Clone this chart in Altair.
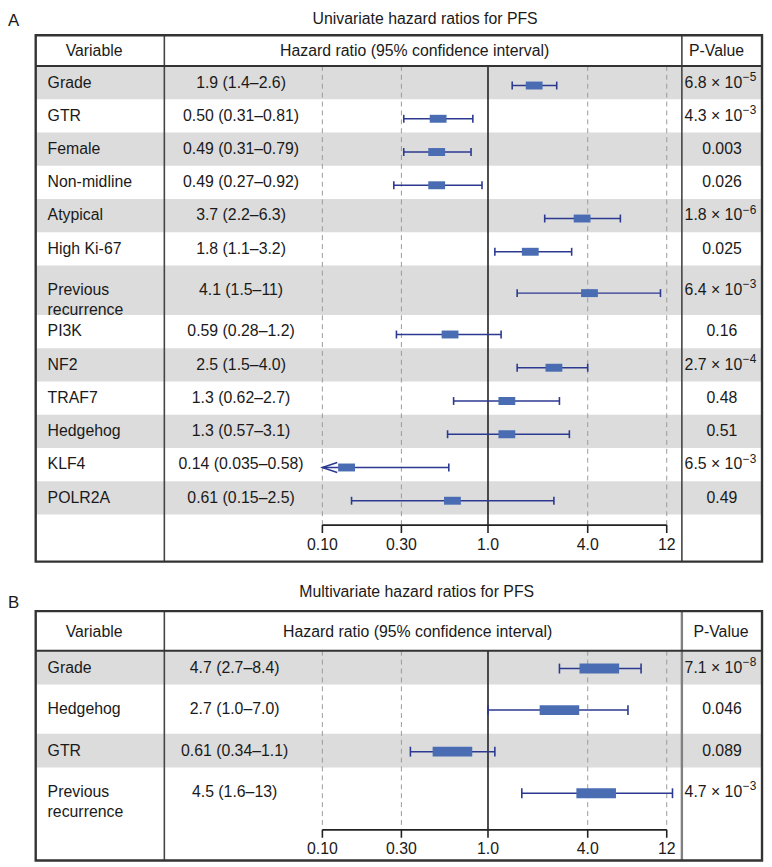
import math
import altair as alt
import pandas as pd

# ---------------- data ----------------
a_vars = ["Grade", "GTR", "Female", "Non-midline", "Atypical", "High Ki-67",
          "Previous\nrecurrence", "PI3K", "NF2", "TRAF7", "Hedgehog", "KLF4", "POLR2A"]
a_hr = ["1.9", "0.50", "0.49", "0.49", "3.7", "1.8", "4.1", "0.59", "2.5", "1.3", "1.3", "0.14", "0.61"]
a_lo = ["1.4", "0.31", "0.31", "0.27", "2.2", "1.1", "1.5", "0.28", "1.5", "0.62", "0.57", "0.035", "0.15"]
a_hi = ["2.6", "0.81", "0.79", "0.92", "6.3", "3.2", "11", "1.2", "4.0", "2.7", "3.1", "0.58", "2.5"]
a_p = ["6.8 × 10^−5", "4.3 × 10^−3", "0.003", "0.026", "1.8 × 10^−6", "0.025", "6.4 × 10^−3",
       "0.16", "2.7 × 10^−4", "0.48", "0.51", "6.5 × 10^−3", "0.49"]

b_vars = ["Grade", "Hedgehog", "GTR", "Previous\nrecurrence"]
b_hr = ["4.7", "2.7", "0.61", "4.5"]
b_lo = ["2.7", "1.0", "0.34", "1.6"]
b_hi = ["8.4", "7.0", "1.1", "13"]
b_p = ["7.1 × 10^−8", "0.046", "0.089", "4.7 × 10^−3"]

tick_values = [0.10, 0.30, 1.0, 4.0, 12.0]
tick_labels = ["0.10", "0.30", "1.0", "4.0", "12"]
ref_value = 1.0

titles = {"A": "Univariate hazard ratios for PFS", "B": "Multivariate hazard ratios for PFS"}
headers = ["Variable", "Hazard ratio (95% confidence interval)", "P-Value"]

# ---------------- styling / layout ----------------
FONT = "Liberation Sans, Arial, Helvetica, sans-serif"
FS = 16
TEXT = "#1a1a1a"
SHADE = "#dcdcdc"
NAVY = "#2b3990"
BOX = "#4a6cb3"
GRID = "#9a9a9a"
FRAME = "#333333"

M = 8                 # page margin
W, H = 764, 859       # whole figure drawn in one view


def px(v):
    return v - M


X_LEFT, X_COL1, X_COL2, X_RIGHT = 36, 166, 689, 770
P_CENTER, P_SPLIT = 729.5, 750
X01, X12 = px(325.7), px(673.7)
K = (X12 - X01) / math.log10(12 / 0.1)
XMIN = 0.1 * 10 ** (-X01 / K)
XMAX = 12 * 10 ** ((W - X12) / K)
XS = alt.Scale(type="log", domain=[XMIN, XMAX], range=[0, W], nice=False)
YS = alt.Scale(domain=[0, H], range=[0, H], nice=False, zero=False)

LAYOUT = {
    "A": dict(top=31, head=62, row_h=[50 if "\n" in v else 33.6 for v in a_vars],
              axis=526, label=546, bottom=563, title_x=429.5, title_y=15, letter_y=17,
              hr_x=243.5, header_y=46.5, hx=[95, 419, 724], box_w=17, box_h=8, cap=8,
              off=3, pdiv="#444444", pdiv_w=1.6),
    "B": dict(top=613, head=653, row_h=[34, 50, 34, 50],
              axis=834, label=853.5, bottom=865, title_x=421, title_y=594, letter_y=605,
              hr_x=237, header_y=634, hx=[95, 422, 728.5], box_w=40, box_h=10, cap=10,
              off=1, pdiv="#808080", pdiv_w=2.4),
}


def Y(f):
    return alt.Y(f, type="quantitative", scale=YS, axis=None)


def X(f):
    return alt.X(f, type="quantitative", scale=XS, axis=None)


def txt(**kw):
    base = dict(font=FONT, fontSize=FS, color=TEXT, baseline="middle")
    base.update(kw)
    return base


def panel_layers(key, vars_, hr, lo, hi, pv):
    L = LAYOUT[key]
    y = L["head"]
    recs = []
    for i, v in enumerate(vars_):
        h = L["row_h"][i]
        lov = float(lo[i])
        base, _, exp = pv[i].partition("^")
        recs.append(dict(var=v, label=f"{hr[i]} ({lo[i]}–{hi[i]})", p_base=base, p_exp=exp,
                         has_exp=bool(exp),
                         hr=float(hr[i]), lo=max(lov, min(tick_values)), hi=float(hi[i]),
                         lo_cap=lov >= min(tick_values), clipped=lov < min(tick_values),
                         y0=px(y), y1=px(y + h), yc=px(y + h / 2), shade=(i % 2 == 0)))
        y += h
    rows = pd.DataFrame(recs)
    frame = pd.DataFrame([dict(top=px(L["top"]), bottom=px(L["bottom"]), head=px(L["head"]),
                               axis=px(L["axis"]), a=min(tick_values), b=max(tick_values),
                               r=ref_value, hy=px(L["header_y"]), ty=px(L["title_y"]),
                               ly=px(L["letter_y"]))])
    grid = pd.DataFrame({"t": [t for t in tick_values if t != ref_value]})
    grid["y0"] = px(L["head"])
    grid["y1"] = px(L["axis"])
    ticks = pd.DataFrame({"t": tick_values, "lab": tick_labels})
    ticks["y0"] = px(L["axis"])
    ticks["y1"] = px(L["axis"] + 8)
    ticks["yl"] = px(L["label"])
    caps = pd.concat([
        rows[rows.lo_cap][["lo", "yc"]].rename(columns={"lo": "x"}),
        rows[["hi", "yc"]].rename(columns={"hi": "x"}),
    ])

    off = L["off"]
    layers = [
        alt.Chart(rows[rows.shade]).mark_rect(color=SHADE).encode(
            x=alt.value(px(X_LEFT)), x2=alt.value(px(X_RIGHT)), y=Y("y0"), y2=alt.Y2("y1")),
        alt.Chart(grid).mark_rule(color=GRID, strokeDash=[5, 4], strokeWidth=1).encode(
            x=X("t"), y=Y("y0"), y2=alt.Y2("y1")),
        alt.Chart(frame).mark_rule(color="#222222", strokeWidth=1.6).encode(
            x=X("r"), y=Y("head"), y2=alt.Y2("axis")),
        alt.Chart(frame).mark_rule(color="#222222", strokeWidth=1.8).encode(
            x=X("a"), x2=alt.X2("b"), y=Y("axis")),
        alt.Chart(ticks).mark_rule(color="#222222", strokeWidth=1.6).encode(
            x=X("t"), y=Y("y0"), y2=alt.Y2("y1")),
        alt.Chart(ticks).mark_text(**txt(align="center")).encode(
            x=X("t"), y=Y("yl"), text="lab:N"),
        # table lines
        alt.Chart(frame).mark_rule(color="#444444", strokeWidth=1.6).encode(
            x=alt.value(px(X_COL1)), y=Y("top"), y2=alt.Y2("bottom")),
        alt.Chart(frame).mark_rule(color=L["pdiv"], strokeWidth=L["pdiv_w"]).encode(
            x=alt.value(px(X_COL2)), y=Y("top"), y2=alt.Y2("bottom")),
        alt.Chart(frame).mark_rule(color=FRAME, strokeWidth=2).encode(
            x=alt.value(px(X_LEFT)), x2=alt.value(px(X_RIGHT)), y=Y("head")),
        alt.Chart(frame).mark_rect(fill="transparent", stroke=FRAME, strokeWidth=2.4).encode(
            x=alt.value(px(X_LEFT)), x2=alt.value(px(X_RIGHT)), y=Y("top"), y2=alt.Y2("bottom")),
        # forest marks
        alt.Chart(rows).mark_rule(color=NAVY, strokeWidth=1.5, yOffset=off).encode(
            x=X("lo"), x2=alt.X2("hi"), y=Y("yc")),
        alt.Chart(caps).mark_tick(orient="vertical", size=L["cap"], thickness=1.6,
                                  color=NAVY, opacity=1, yOffset=off).encode(
            x=X("x"), y=Y("yc")),
        alt.Chart(rows[rows.clipped]).mark_point(shape="M3,-1L0,0L3,1", size=100, filled=False,
                                                 strokeWidth=1.5, color=NAVY, opacity=1,
                                                 yOffset=off).encode(
            x=X("lo"), y=Y("yc")),
        alt.Chart(rows).mark_tick(orient="horizontal", size=L["box_w"], thickness=L["box_h"],
                                  color=BOX, opacity=1, yOffset=off).encode(
            x=X("hr"), y=Y("yc")),
        # texts
        alt.Chart(rows).mark_text(**txt(align="left", lineBreak="\n", lineHeight=20)).encode(
            x=alt.value(px(48)), y=Y("yc"), text="var:N"),
        alt.Chart(rows).mark_text(**txt(align="center")).encode(
            x=alt.value(px(L["hr_x"])), y=Y("yc"), text="label:N"),
        alt.Chart(rows[~rows.has_exp]).mark_text(**txt(align="center")).encode(
            x=alt.value(px(P_CENTER)), y=Y("yc"), text="p_base:N"),
        alt.Chart(rows[rows.has_exp]).mark_text(**txt(align="right")).encode(
            x=alt.value(px(P_SPLIT)), y=Y("yc"), text="p_base:N"),
        alt.Chart(rows[rows.has_exp]).mark_text(**txt(align="left", fontSize=12, dy=-6)).encode(
            x=alt.value(px(P_SPLIT + 0.5)), y=Y("yc"), text="p_exp:N"),
    ]
    for hx, ht in zip(L["hx"], headers):
        layers.append(alt.Chart(frame).mark_text(**txt(align="center", text=ht)).encode(
            x=alt.value(px(hx)), y=Y("hy")))
    layers.append(alt.Chart(frame).mark_text(**txt(align="center", text=titles[key])).encode(
        x=alt.value(px(L["title_x"])), y=Y("ty")))
    layers.append(alt.Chart(frame).mark_text(**txt(align="left", text=key, fontSize=17)).encode(
        x=alt.value(0), y=Y("ly")))
    return layers


layers = (panel_layers("A", a_vars, a_hr, a_lo, a_hi, a_p)
          + panel_layers("B", b_vars, b_hr, b_lo, b_hi, b_p))

chart = alt.layer(*layers).properties(
    width=W, height=H, padding=0,
    autosize=alt.AutoSizeParams(type="none"),
    background="white",
).configure_view(strokeWidth=0)

chart.save("out.html", embed_options={"renderer": "svg", "actions": False})
